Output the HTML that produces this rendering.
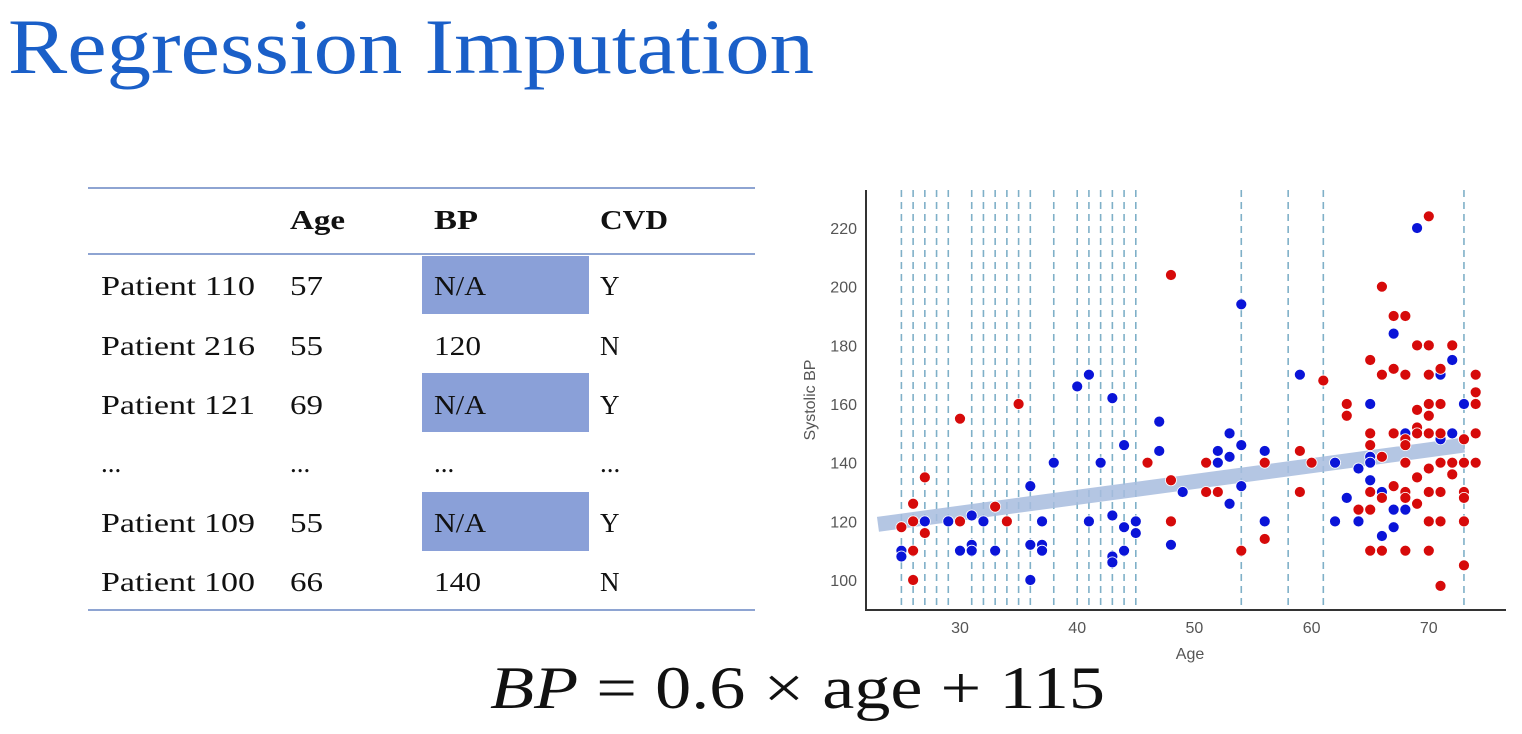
<!DOCTYPE html>
<html><head><meta charset="utf-8"><style>
html,body{margin:0;padding:0;background:#fff;width:1522px;height:734px;overflow:hidden}
svg{display:block}
.t{font-family:"Liberation Serif",serif;font-size:27px;fill:#111}
.h{font-weight:bold}
.tk{font-family:"Liberation Sans",sans-serif;font-size:16px;fill:#555}
</style></head><body>
<svg id="root" width="1522" height="734" xmlns="http://www.w3.org/2000/svg">
<text x="8" y="73" font-family="Liberation Serif, serif" font-size="78" fill="#1a5fc8" textLength="806" lengthAdjust="spacingAndGlyphs">Regression Imputation</text>
<g>
<line x1="88" y1="188" x2="755" y2="188" stroke="#8ea4d2" stroke-width="2"/>
<line x1="88" y1="254" x2="755" y2="254" stroke="#8ea4d2" stroke-width="2"/>
<line x1="88" y1="610" x2="755" y2="610" stroke="#8ea4d2" stroke-width="2"/>
<rect x="422" y="256" width="167" height="58" fill="#8aa0d8"/>
<rect x="422" y="373" width="167" height="59" fill="#8aa0d8"/>
<rect x="422" y="492" width="167" height="59" fill="#8aa0d8"/>
<text class="t h" x="290" y="229" textLength="55" lengthAdjust="spacingAndGlyphs">Age</text><text class="t h" x="434" y="229" textLength="44" lengthAdjust="spacingAndGlyphs">BP</text><text class="t h" x="600" y="229" textLength="68" lengthAdjust="spacingAndGlyphs">CVD</text>
<text class="t" x="101" y="295" textLength="154" lengthAdjust="spacingAndGlyphs">Patient 110</text><text class="t" x="290" y="295" textLength="33" lengthAdjust="spacingAndGlyphs">57</text><text class="t" x="434" y="295" textLength="52" lengthAdjust="spacingAndGlyphs">N/A</text><text class="t" x="600" y="295">Y</text>
<text class="t" x="101" y="355" textLength="154" lengthAdjust="spacingAndGlyphs">Patient 216</text><text class="t" x="290" y="355" textLength="33" lengthAdjust="spacingAndGlyphs">55</text><text class="t" x="434" y="355" textLength="47" lengthAdjust="spacingAndGlyphs">120</text><text class="t" x="600" y="355">N</text>
<text class="t" x="101" y="414" textLength="154" lengthAdjust="spacingAndGlyphs">Patient 121</text><text class="t" x="290" y="414" textLength="33" lengthAdjust="spacingAndGlyphs">69</text><text class="t" x="434" y="414" textLength="52" lengthAdjust="spacingAndGlyphs">N/A</text><text class="t" x="600" y="414">Y</text>
<text class="t" x="101" y="472">...</text><text class="t" x="290" y="472">...</text><text class="t" x="434" y="472">...</text><text class="t" x="600" y="472">...</text>
<text class="t" x="101" y="532" textLength="154" lengthAdjust="spacingAndGlyphs">Patient 109</text><text class="t" x="290" y="532" textLength="33" lengthAdjust="spacingAndGlyphs">55</text><text class="t" x="434" y="532" textLength="52" lengthAdjust="spacingAndGlyphs">N/A</text><text class="t" x="600" y="532">Y</text>
<text class="t" x="101" y="591" textLength="154" lengthAdjust="spacingAndGlyphs">Patient 100</text><text class="t" x="290" y="591" textLength="33" lengthAdjust="spacingAndGlyphs">66</text><text class="t" x="434" y="591" textLength="47" lengthAdjust="spacingAndGlyphs">140</text><text class="t" x="600" y="591">N</text>
</g>
<g id="chart"></g>
<text x="490" y="708" font-family="Liberation Serif, serif" font-size="60" fill="#111" textLength="615" lengthAdjust="spacingAndGlyphs"><tspan font-style="italic">BP</tspan> = 0.6 × age + 115</text>
</svg>
<script>
const xTicks=[30,40,50,60,70];
const yTicks=[100,120,140,160,180,200,220];
const dashAges=[25,26,27,28,29,31,32,33,34,35,36,38,40,41,42,43,44,45,54,58,61,73];
const blueAge=[25,25,27,29,30,31,31,31,32,33,36,36,36,37,37,37,38,40,41,41,42,43,43,43,43,44,44,44,45,45,47,47,48,49,52,52,53,53,53,54,54,54,56,56,59,62,62,63,64,64,65,65,65,65,66,66,67,67,67,68,68,69,71,71,72,72,73];
const blueBP=[110,108,120,120,110,122,112,110,120,110,132,112,100,120,112,110,140,166,170,120,140,162,122,108,106,146,118,110,120,116,154,144,112,130,144,140,150,142,126,194,146,132,144,120,170,140,120,128,138,120,160,142,140,134,130,115,184,124,118,150,124,220,170,148,175,150,160];
const redAge=[25,26,26,26,26,27,27,30,30,33,34,35,46,48,48,48,51,51,52,54,56,56,59,59,60,61,63,63,64,65,65,65,65,65,65,66,66,66,66,66,67,67,67,67,68,68,68,68,68,68,68,68,69,69,69,69,69,69,70,70,70,70,70,70,70,70,70,70,71,71,71,71,71,71,71,72,72,72,73,73,73,73,73,73,74,74,74,74,74];
const redBP=[118,126,120,110,100,135,116,155,120,125,120,160,140,204,134,120,140,130,130,110,140,114,144,130,140,168,160,156,124,175,150,146,130,124,110,200,170,142,128,110,190,172,150,132,190,170,148,146,140,130,128,110,180,158,152,150,135,126,224,180,170,160,156,150,138,130,120,110,98,172,160,150,140,130,120,180,140,136,148,140,130,128,120,105,170,164,160,150,140];
const fit=[[23,119],[73,146]];
const NS='http://www.w3.org/2000/svg';
const g=document.getElementById('chart');
const X=a=>960+(a-30)*11.72;
const Y=v=>580-(v-100)*2.933;
function mk(t,at){const e=document.createElementNS(NS,t);for(const k in at)e.setAttribute(k,at[k]);g.appendChild(e);return e;}
dashAges.forEach(a=>{const l=mk('line',{x1:X(a),x2:X(a),y1:190,y2:610,stroke:'#7fb0c8','stroke-width':1.6,'stroke-dasharray':'7,5'});

});
const band=mk('line',{x1:X(fit[0][0]),y1:Y(fit[0][1]),x2:X(fit[1][0]),y2:Y(fit[1][1]),stroke:'#a8bddf','stroke-width':15,opacity:0.85});


blueAge.forEach((a,i)=>{const c=mk('circle',{cx:X(a),cy:Y(blueBP[i]),r:5.5,fill:'#0a14d8',stroke:'#fff','stroke-width':0.8});

});
redAge.forEach((a,i)=>{const c=mk('circle',{cx:X(a),cy:Y(redBP[i]),r:5.5,fill:'#d60a0a',stroke:'#fff','stroke-width':0.8});

});
const ya=mk('line',{x1:866,x2:866,y1:190,y2:611,stroke:'#333','stroke-width':2});


const xa=mk('line',{x1:865,x2:1506,y1:610,y2:610,stroke:'#333','stroke-width':2});


xTicks.forEach(v=>{const t=mk('text',{x:X(v),y:633,'text-anchor':'middle',class:'tk'});t.textContent=v;

});
yTicks.forEach(v=>{const t=mk('text',{x:857,y:Y(v)+6,'text-anchor':'end',class:'tk'});t.textContent=v;

});
const xt=mk('text',{x:1190,y:659,'text-anchor':'middle',class:'tk'});xt.textContent='Age';


const yt=mk('text',{x:815,y:400,'text-anchor':'middle',class:'tk',transform:'rotate(-90 815 400)'});yt.textContent='Systolic BP';


</script>
</body></html>
